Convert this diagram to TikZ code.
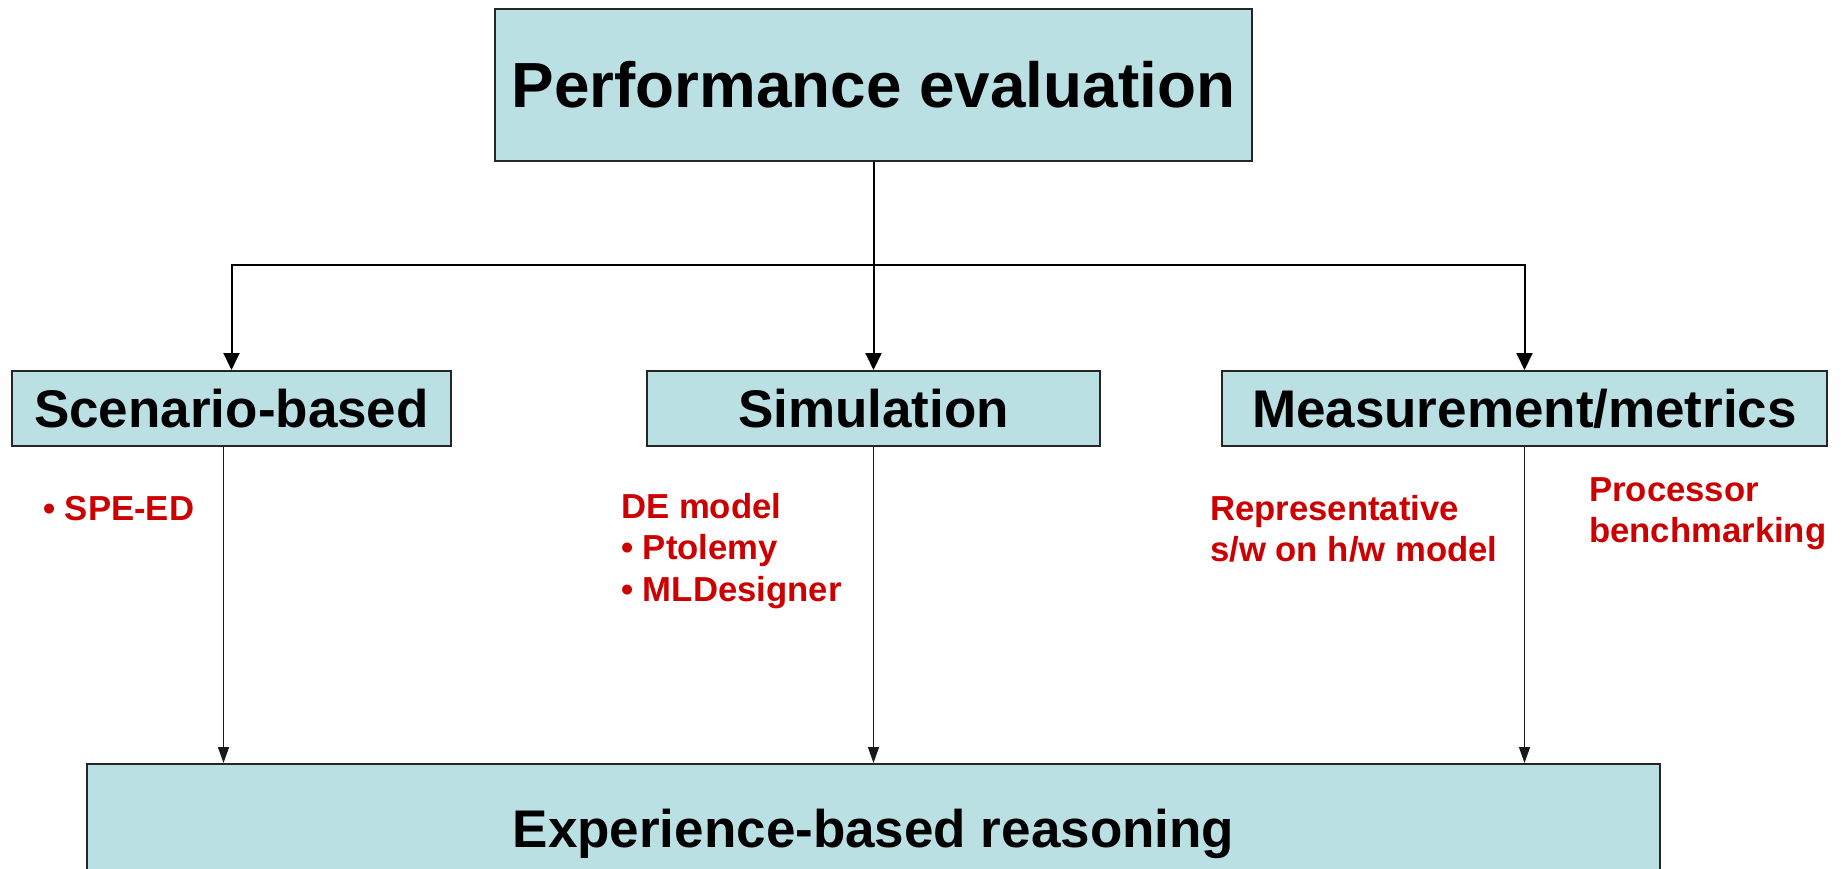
\documentclass[tikz,border=0pt]{standalone}
\usepackage{fontspec}
\setmainfont{Liberation Sans}
\usetikzlibrary{arrows.meta}
\definecolor{boxfill}{RGB}{187,224,227}
\definecolor{redtext}{RGB}{204,0,0}
\tikzset{
  box/.style={draw=black!85, line width=2pt, fill=boxfill, inner sep=0pt, font=\bfseries\fontsize{53}{60}\selectfont},
  redtxt/.style={text=redtext, inner sep=0pt, align=left, anchor=west, font=\bfseries\fontsize{34.7}{41.5}\selectfont},
  uparrow/.style={draw=black, line width=2pt, -{Triangle[length=17pt,width=16pt]}},
  lowarrow/.style={draw=black!90, line width=1.4pt, -{Triangle[length=16pt,width=11pt]}},
  plainline/.style={draw=black, line width=2pt}
}
\begin{document}
\begin{tikzpicture}[x=1pt,y=-1pt]
\useasboundingbox (0,0) rectangle (1841,868);
\clip (0,0) rectangle (1841,868);
\node[box, minimum width=757pt, minimum height=152pt, font=\bfseries\fontsize{63.8}{70}\selectfont] (top) at (873.5,85) {Performance evaluation};
\node[box, minimum width=439pt, minimum height=75pt] (scen) at (231.5,408.5) {Scenario-based};
\node[box, minimum width=453pt, minimum height=75pt] (sim) at (873.5,408.5) {Simulation};
\node[box, minimum width=605pt, minimum height=75pt] (meas) at (1524.5,408.5) {Measurement/metrics};
\node[box, minimum width=1573pt, minimum height=140pt] (exp) at (873.5,834) {Experience-based reasoning};
\coordinate (j) at (873.5,265);
\draw[plainline] (top.south) -- (j);
\draw[uparrow] (j) -| (scen.north);
\draw[uparrow] (j) -- (sim.north);
\draw[uparrow] (j) -| (meas.north);
\draw[lowarrow] ([xshift=-8pt]scen.south) -- ([xshift=-8pt]scen.south |- exp.north);
\draw[lowarrow] (sim.south) -- (sim.south |- exp.north);
\draw[lowarrow] (meas.south) -- (meas.south |- exp.north);
\node[redtxt] (speed) at (43,509) {• SPE-ED};
\node[redtxt] (de) at (621,551) {DE model\\• Ptolemy\\• MLDesigner};
\node[redtxt] (repr) at (1210,529) {Representative\\s/w on h/w model};
\node[redtxt] (proc) at (1589,513.5) {Processor\\benchmarking};
\end{tikzpicture}
\end{document}
